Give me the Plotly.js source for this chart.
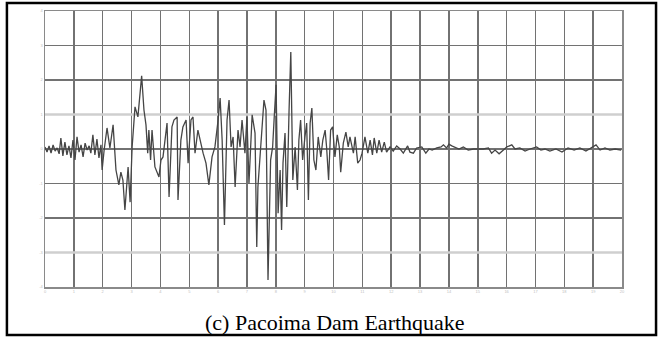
<!DOCTYPE html>
<html>
<head>
<meta charset="utf-8">
<script src="https://cdn.plot.ly/plotly-3.0.1.min.js"></script>
<style>
html,body{margin:0;padding:0;background:#fff;}
#chart{width:660px;height:338px;}
</style>
</head>
<body>
<div id="chart"></div>
<script>
// Time (s)
const timeS = [
0.00,0.07,0.14,0.21,0.28,0.35,0.42,0.49,0.55,0.62,0.69,0.76,0.83,0.90,0.97,1.04,1.11,1.18,1.25,1.32,
1.39,1.46,1.53,1.59,1.66,1.73,1.80,1.87,1.94,1.98,2.05,2.15,2.25,2.36,2.46,2.56,2.63,2.70,2.77,2.88,
2.95,3.02,3.12,3.22,3.35,3.43,3.50,3.56,3.60,3.66,3.71,3.81,3.95,4.02,4.09,4.23,4.30,4.40,4.47,4.58,
4.61,4.71,4.78,4.89,4.96,5.06,5.13,5.20,5.30,5.37,5.48,5.58,5.68,5.79,5.89,6.00,6.07,6.14,6.22,6.31,
6.38,6.45,6.52,6.59,6.69,6.76,6.83,6.93,7.00,7.07,7.18,7.28,7.34,7.38,7.48,7.55,7.59,7.66,7.73,7.82,
7.89,7.94,8.01,8.08,8.15,8.20,8.25,8.32,8.38,8.46,8.52,8.59,8.67,8.75,8.80,8.86,8.93,9.01,9.07,9.13,
9.19,9.25,9.32,9.39,9.47,9.56,9.63,9.71,9.76,9.83,9.90,9.97,10.05,10.13,10.20,10.25,10.34,10.43,10.51,10.57,
10.69,10.75,10.84,10.92,10.99,11.09,11.19,11.27,11.35,11.41,11.50,11.58,11.67,11.76,11.84,11.96,12.07,12.19,12.31,12.42,
12.57,12.65,12.77,12.88,13.06,13.20,13.31,13.42,13.58,13.73,13.81,13.92,14.00,14.10,14.21,14.35,14.50,14.67,14.85,15.02,
15.19,15.37,15.48,15.60,15.74,15.89,16.01,16.18,16.29,16.46,16.64,16.81,17.04,17.19,17.33,17.50,17.71,17.92,18.13,18.34,
18.54,18.75,18.96,19.10,19.24,19.41,19.58,19.76,19.97
];
// Ground acceleration (grid units)
const accel = [
0.06,-0.09,0.09,-0.12,0.12,-0.06,0.03,-0.14,0.32,-0.20,0.20,-0.17,0.09,-0.26,0.26,-0.32,0.35,-0.09,0.12,-0.23,
0.17,-0.03,0.09,-0.12,0.41,-0.17,0.29,-0.26,0.12,-0.61,-0.03,0.61,0.03,0.70,-0.61,-1.04,-0.67,-0.90,-1.77,-0.52,
-1.54,0.06,1.22,0.93,2.12,1.13,0.70,-0.12,0.55,-0.32,0.55,-0.52,-0.81,-0.32,-0.23,0.75,-1.39,0.64,0.84,0.93,
-1.48,0.26,0.64,0.84,-0.41,0.84,0.93,-0.12,0.55,0.26,-0.12,-0.41,-1.04,-0.23,0.06,0.84,1.48,0.26,-2.20,0.84,
1.42,0.06,0.35,-1.10,0.55,0.06,0.84,-0.12,0.93,-0.99,0.99,0.46,-2.84,-1.10,0.06,0.84,1.42,1.13,-3.80,-0.32,
0.06,0.84,1.86,-1.86,-0.61,-2.35,-0.41,0.46,-1.68,1.13,2.81,-0.90,0.06,-1.19,0.26,0.84,-0.32,0.35,0.75,-1.48,
0.75,1.19,-0.32,-0.61,0.35,-0.23,0.26,0.55,0.06,-0.90,0.55,0.64,-0.23,0.41,0.06,-0.67,0.17,0.49,0.06,0.35,
-0.12,0.35,-0.41,-0.32,-0.12,0.35,-0.12,0.26,-0.17,0.32,-0.12,0.26,-0.09,0.20,-0.09,0.06,-0.06,0.09,0.00,-0.12,
0.09,-0.09,-0.12,0.03,0.06,-0.12,0.00,-0.03,0.03,0.06,0.12,0.03,0.14,0.09,0.06,0.00,0.06,-0.03,0.00,0.00,
0.00,0.03,-0.12,-0.03,-0.14,-0.03,0.06,0.12,0.00,0.03,-0.06,0.00,0.06,-0.03,0.00,-0.06,0.00,-0.09,0.03,-0.03,
0.03,-0.06,0.06,0.12,-0.03,0.03,-0.03,0.00,-0.03
];
const xTicks = [0,1,2,3,4,5,6,7,8,9,10,11,12,13,14,15,16,17,18,19,20];
const yTicks = [-4,-3,-2,-1,0,1,2,3,4];
const lightGridY = [1,-3];
const caption = "(c) Pacoima Dam Earthquake";

const shapes = [];
lightGridY.forEach(v => shapes.push({
  type:'line', xref:'x', yref:'y', x0:0, x1:20, y0:v, y1:v,
  line:{color:'#cfcfcf', width:2.5}, layer:'between'
}));
// outer frame around figure
shapes.push({
  type:'rect', xref:'paper', yref:'paper',
  x0:-0.066, x1:1.059, y0:-0.174, y1:1.029,
  line:{color:'#000', width:2.5}, fillcolor:'rgba(0,0,0,0)'
});

const trace = {
  x: timeS, y: accel, type:'scatter', mode:'lines',
  line:{color:'#454545', width:1.3}, hoverinfo:'skip'
};

const layout = {
  width:660, height:338,
  margin:{l:45, r:38, t:11, b:51, pad:0},
  paper_bgcolor:'#fff', plot_bgcolor:'#fff',
  showlegend:false,
  xaxis:{
    range:[0,20], tickvals:xTicks, ticktext:xTicks.map(String),
    showgrid:true, gridcolor:'#727272', gridwidth:1.5,
    zeroline:false, showline:true, mirror:true, linecolor:'#8a8a8a', linewidth:1.5,
    ticks:'', tickfont:{size:4, color:'#c0c0c0', family:'Liberation Sans'}, fixedrange:true
  },
  yaxis:{
    range:[-4,4], tickvals:yTicks, ticktext:yTicks.map(String),
    showgrid:true, gridcolor:'#727272', gridwidth:1.5,
    zeroline:false, showline:true, mirror:true, linecolor:'#8a8a8a', linewidth:1.5,
    ticks:'', tickfont:{size:4, color:'#c0c0c0', family:'Liberation Sans'}, fixedrange:true
  },
  shapes: shapes,
  annotations:[{
    text: caption, xref:'paper', yref:'paper', x:0.503, y:-0.13,
    xanchor:'center', yanchor:'middle', showarrow:false,
    font:{family:'Liberation Serif, Times New Roman, serif', size:22, color:'#000'}
  }]
};

Plotly.newPlot('chart', [trace], layout, {displayModeBar:false, staticPlot:true});
</script>
</body>
</html>
